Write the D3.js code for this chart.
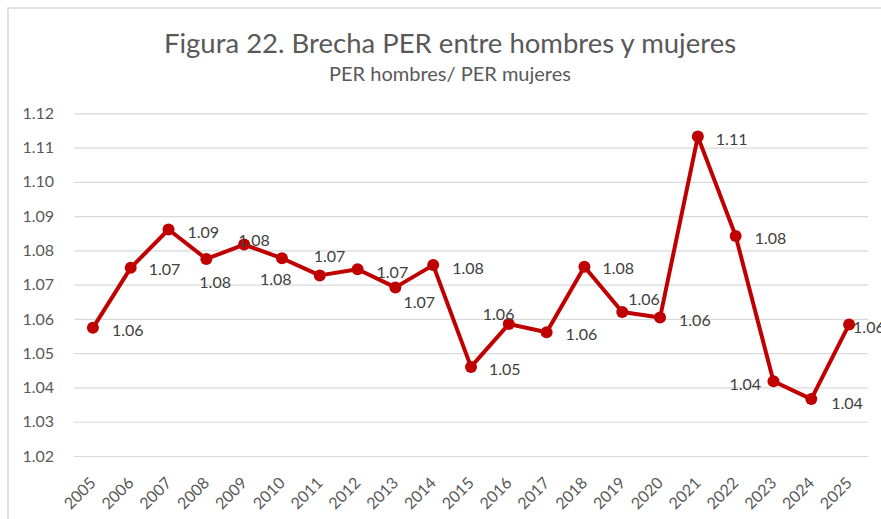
<!DOCTYPE html>
<html>
<head>
<meta charset="utf-8">
<script src="https://cdn.jsdelivr.net/npm/d3@7"></script>
<style>
  html, body { margin: 0; padding: 0; background: #fff; }
  svg { display: block; }
  text { font-family: Lato, "Open Sans", sans-serif; }
</style>
</head>
<body>
<svg id="chart" width="881" height="519"></svg>
<script>
// ---- Data ----
const years = ["2005","2006","2007","2008","2009","2010","2011","2012","2013","2014",
               "2015","2016","2017","2018","2019","2020","2021","2022","2023","2024","2025"];
const brecha = [1.0574, 1.0749, 1.0861, 1.0775, 1.0817, 1.0777, 1.0727, 1.0745, 1.0692, 1.0757,
                1.0460, 1.0585, 1.0561, 1.0752, 1.0620, 1.0604, 1.1132, 1.0842, 1.0418, 1.0366, 1.0584];
const yTicks = [1.02, 1.03, 1.04, 1.05, 1.06, 1.07, 1.08, 1.09, 1.10, 1.11, 1.12];
const titleText = "Figura 22. Brecha PER entre hombres y mujeres";
const subtitleText = "PER hombres/ PER mujeres";

// ---- Label placement (layout, px offsets of label start / vertical centre from point) ----
const labelOffsets = [
  [19, 2], [18, 1], [19, 2], [-7, 23], [-6, -5], [-22, 20], [-6, -20], [19, 2], [8, 14], [19, 2],
  [18, 2], [-26, -11], [19, 1], [18, 1], [6, -14], [19, 2], [18, 2], [19, 2], [-44, 2], [20, 3], [4, 2]
];

const svg = d3.select("#chart");
const W = 881, H = 519;
const plot = { left: 74, right: 868, top: 113.3, bottom: 456 };
const textColor = "#595959";
const gridColor = "#d9d9d9";
const lineColor = "#c00000";

// chart frame
svg.append("rect")
  .attr("x", 8).attr("y", 8).attr("width", W + 20).attr("height", H + 20)
  .attr("fill", "none").attr("stroke", gridColor).attr("stroke-width", 1.5);

// titles
svg.append("text")
  .attr("x", 450).attr("y", 53)
  .attr("text-anchor", "middle")
  .attr("fill", textColor)
  .attr("font-size", 27.5)
  .text(titleText);
svg.append("text")
  .attr("x", 450).attr("y", 81)
  .attr("text-anchor", "middle")
  .attr("fill", textColor)
  .attr("font-size", 20)
  .text(subtitleText);

// scales
const x = d3.scaleBand().domain(years).range([plot.left, plot.right]).padding(0);
const y = d3.scaleLinear().domain([1.02, 1.12]).range([plot.bottom, plot.top]);
const cx = d => x(d) + x.bandwidth() / 2;

// y axis (gridlines + labels)
const yAxis = d3.axisLeft(y)
  .tickValues(yTicks)
  .tickSize(-(plot.right - plot.left))
  .tickPadding(20)
  .tickFormat(d3.format(".2f"));
const gy = svg.append("g")
  .attr("transform", `translate(${plot.left},0)`)
  .call(yAxis);
gy.select(".domain").remove();
gy.selectAll(".tick line").attr("stroke", gridColor).attr("stroke-width", 1.2);
gy.selectAll(".tick text")
  .attr("fill", textColor)
  .attr("font-size", 16)
  .attr("font-family", "Lato, 'Open Sans', sans-serif");

// x axis
const xAxis = d3.axisBottom(x).tickSize(0).tickPadding(0);
const gx = svg.append("g")
  .attr("transform", `translate(0,${plot.bottom})`)
  .call(xAxis);
gx.select(".domain").attr("stroke", gridColor).attr("stroke-width", 1.2);
gx.selectAll(".tick text")
  .attr("fill", textColor)
  .attr("font-size", 16)
  .attr("font-family", "Lato, 'Open Sans', sans-serif")
  .attr("text-anchor", "end")
  .attr("dy", null)
  .attr("y", 0)
  .attr("transform", "translate(4,28) rotate(-45)");

// line
const line = d3.line()
  .x((d, i) => cx(years[i]))
  .y(d => y(d));
svg.append("path")
  .datum(brecha)
  .attr("d", line)
  .attr("fill", "none")
  .attr("stroke", lineColor)
  .attr("stroke-width", 4)
  .attr("stroke-linejoin", "round");

// markers
svg.append("g").selectAll("circle")
  .data(brecha)
  .join("circle")
  .attr("cx", (d, i) => cx(years[i]))
  .attr("cy", d => y(d))
  .attr("r", 6)
  .attr("fill", lineColor);

// data labels
svg.append("g").selectAll("text")
  .data(brecha)
  .join("text")
  .attr("x", (d, i) => cx(years[i]) + labelOffsets[i][0])
  .attr("y", (d, i) => y(d) + labelOffsets[i][1])
  .attr("dominant-baseline", "central")
  .attr("fill", "#404040")
  .attr("font-size", 16)
  .text(d => d3.format(".2f")(d));
</script>
</body>
</html>
